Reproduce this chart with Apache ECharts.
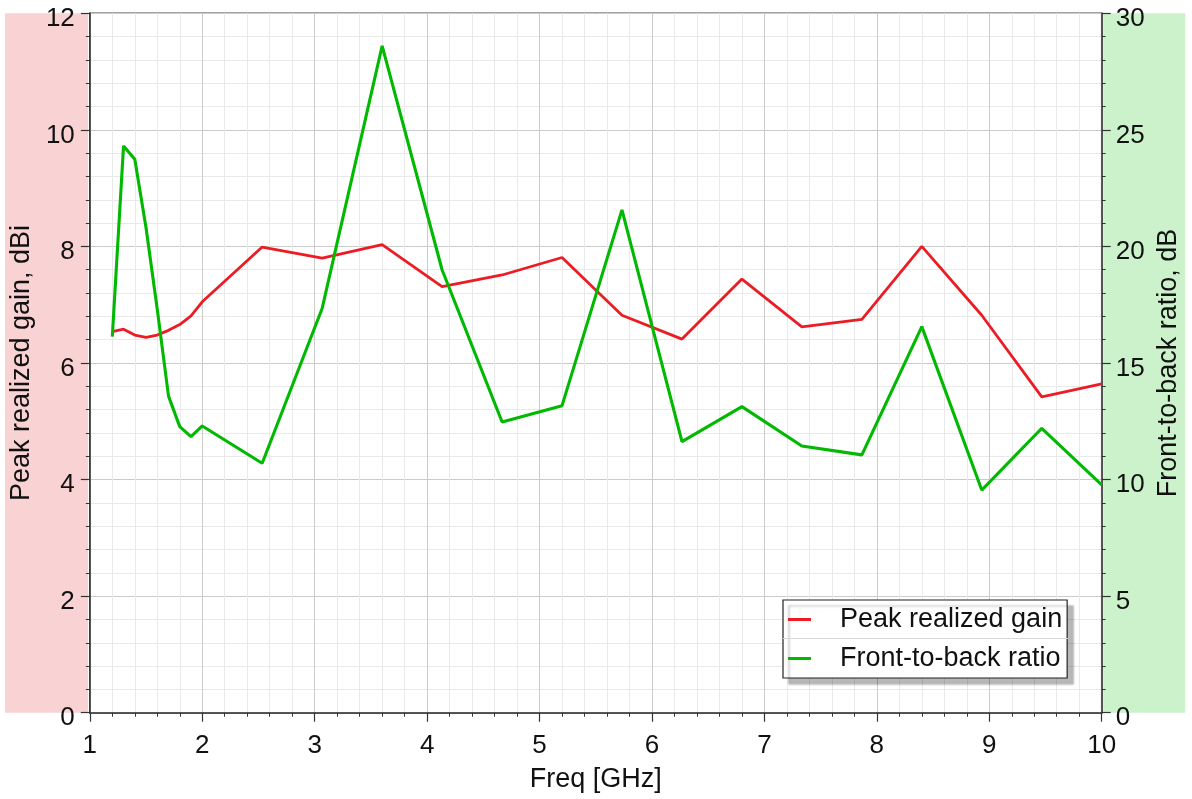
<!DOCTYPE html>
<html>
<head>
<meta charset="utf-8">
<title>Peak realized gain and front-to-back ratio</title>
<script src="https://cdn.jsdelivr.net/npm/echarts@6/dist/echarts.min.js"></script>
<style>
  html, body { margin: 0; padding: 0; background: #ffffff; }
  #chart { width: 1192px; height: 799px; }
</style>
</head>
<body>
<div id="chart"></div>
<script>
// Frequency samples, GHz
const freqGHz = [1.2, 1.3, 1.4, 1.5, 1.6, 1.7, 1.8, 1.9, 2.0,
  2.533, 3.067, 3.6, 4.133, 4.667, 5.2, 5.733, 6.267, 6.8,
  7.333, 7.867, 8.4, 8.933, 9.467, 10];

// Peak realized gain, dBi
const peakGain = [6.54, 6.58, 6.48, 6.44, 6.48, 6.56, 6.66, 6.81, 7.05,
  7.99, 7.80, 8.03, 7.31, 7.51, 7.81, 6.82, 6.41, 7.44,
  6.62, 6.75, 8.00, 6.82, 5.42, 5.64];

// Front-to-back ratio, dB
const frontToBack = [16.13, 24.31, 23.74, 20.8, 17.3, 13.58, 12.27, 11.84, 12.3,
  10.70, 17.35, 28.6, 19.0, 12.47, 13.17, 21.57, 11.63, 13.13,
  11.44, 11.06, 16.56, 9.55, 12.2, 9.77];

const seriesNames = ['Peak realized gain', 'Front-to-back ratio'];
const axisTitles = { x: 'Freq [GHz]', left: 'Peak realized gain, dBi', right: 'Front-to-back ratio, dB' };

const FONT = '"Liberation Sans", Arial, sans-serif';
const RED = '#ec1c24';
const GREEN = '#00b900';

const pairs = (xs, ys) => xs.map((x, i) => [x, ys[i]]);

const chart = echarts.init(document.getElementById('chart'), null, { renderer: 'canvas' });

const G = { left: 89.3, right: 90.3, top: 13.3, bottom: 86.3 };
const plotBottom = 799 - G.bottom;

const tickLabel = { fontFamily: FONT, fontSize: 26, color: '#111' };
const titleStyle = { fontFamily: FONT, fontSize: 27, color: '#111' };

// y tick labels sit a little below their ticks
const yTickLabel = (margin) => ({
  ...tickLabel, margin: margin,
  formatter: '{v|{value}}',
  rich: { v: { fontFamily: FONT, fontSize: 26, color: '#111', padding: [11, 0, 0, 0] } }
});

chart.setOption({
  animation: false,
  backgroundColor: '#ffffff',
  graphic: [
    { type: 'rect', z: -10, silent: true,
      shape: { x: 5, y: G.top, width: 83, height: plotBottom - G.top },
      style: { fill: '#f9d3d4' } },
    { type: 'rect', z: -10, silent: true,
      shape: { x: 1192 - G.right + 1.5, y: G.top, width: 82, height: plotBottom - G.top },
      style: { fill: '#ccf2cc' } },
    { type: 'line', z: 100, silent: true,
      shape: { x1: 783, y1: 638.5, x2: 1068, y2: 638.5 },
      style: { stroke: '#d8d8d8', lineWidth: 1 } }
  ],
  grid: {
    left: G.left, right: G.right, top: G.top, bottom: G.bottom,
    show: true, borderColor: '#444', borderWidth: 1.5, backgroundColor: 'transparent'
  },
  legend: {
    data: seriesNames,
    orient: 'vertical',
    left: 783, top: 600,
    padding: [6, 5, 6, 5],
    itemGap: 12,
    itemWidth: 23, itemHeight: 3,
    icon: 'rect',
    backgroundColor: '#ffffff',
    borderColor: '#222', borderWidth: 1.2,
    shadowColor: 'rgba(0,0,0,0.28)', shadowBlur: 2, shadowOffsetX: 6, shadowOffsetY: 6,
    textStyle: { fontFamily: FONT, fontSize: 27, color: '#111', lineHeight: 27, padding: [0, 0, 0, 24] }
  },
  xAxis: {
    type: 'value', min: 1, max: 10, interval: 1,
    name: axisTitles.x, nameLocation: 'middle', nameGap: 53,
    nameTextStyle: titleStyle,
    axisLine: { show: true, onZero: false, lineStyle: { color: '#333', width: 1.5 } },
    axisTick: { show: true, length: 9, lineStyle: { color: '#333', width: 1.2 } },
    minorTick: { show: true, splitNumber: 5, length: 4, lineStyle: { color: '#333', width: 1 } },
    axisLabel: { ...tickLabel, margin: 20 },
    splitLine: { show: true, lineStyle: { color: '#cbcbcb', width: 1 } },
    minorSplitLine: { show: true, lineStyle: { color: '#e9e9e9', width: 1 } }
  },
  yAxis: [
    {
      type: 'value', min: 0, max: 12, interval: 2, position: 'left',
      name: axisTitles.left, nameLocation: 'middle', nameGap: 44, nameRotate: 90,
      nameTextStyle: titleStyle,
      axisLine: { show: true, onZero: false, lineStyle: { color: '#333', width: 1.5 } },
      axisTick: { show: true, length: 9, lineStyle: { color: '#333', width: 1.2 } },
      minorTick: { show: true, splitNumber: 5, length: 4, lineStyle: { color: '#333', width: 1 } },
      axisLabel: yTickLabel(15),
      splitLine: { show: true, lineStyle: { color: '#cbcbcb', width: 1 } },
      minorSplitLine: { show: true, lineStyle: { color: '#e9e9e9', width: 1 } }
    },
    {
      type: 'value', min: 0, max: 30, interval: 5, position: 'right',
      name: axisTitles.right, nameLocation: 'middle', nameGap: 52, nameRotate: 90,
      nameTextStyle: titleStyle,
      axisLine: { show: true, onZero: false, lineStyle: { color: '#333', width: 1.5 } },
      axisTick: { show: true, length: 9, lineStyle: { color: '#333', width: 1.2 } },
      minorTick: { show: true, splitNumber: 5, length: 4, lineStyle: { color: '#333', width: 1 } },
      axisLabel: yTickLabel(14),
      splitLine: { show: false },
      minorSplitLine: { show: false }
    }
  ],
  series: [
    {
      name: seriesNames[0], type: 'line', yAxisIndex: 0,
      data: pairs(freqGHz, peakGain),
      showSymbol: false, symbol: 'none',
      color: RED,
      lineStyle: { color: RED, width: 2.8 },
      z: 3
    },
    {
      name: seriesNames[1], type: 'line', yAxisIndex: 1,
      data: pairs(freqGHz, frontToBack),
      showSymbol: false, symbol: 'none',
      color: GREEN,
      lineStyle: { color: GREEN, width: 3.1 },
      z: 4
    }
  ]
});
</script>
</body>
</html>
